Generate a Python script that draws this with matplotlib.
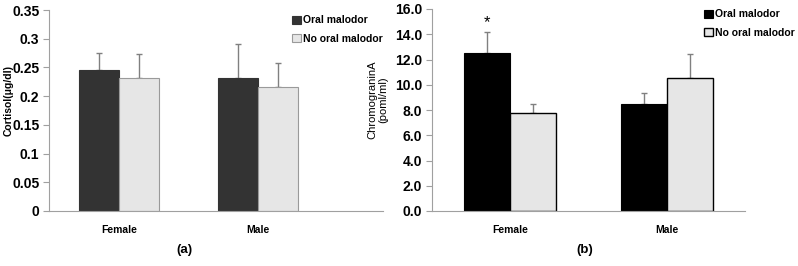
import matplotlib
matplotlib.use("Agg")
import matplotlib.pyplot as plt
import numpy as np

plt.rcParams['font.family'] = ['Liberation Sans', 'DejaVu Sans']

categories = ["Female", "Male"]
series = ["Oral malodor", "No oral malodor"]

cortisol_oral = [0.245, 0.231]
cortisol_oral_err = [0.030, 0.060]
cortisol_no = [0.232, 0.216]
cortisol_no_err = [0.041, 0.041]

cga_oral = [12.5, 8.45]
cga_oral_err = [1.7, 0.9]
cga_no = [7.75, 10.55]
cga_no_err = [0.75, 1.85]

left_ticks = [0, 0.05, 0.1, 0.15, 0.2, 0.25, 0.3, 0.35]
left_ticklabels = ["0", "0.05", "0.1", "0.15", "0.2", "0.25", "0.3", "0.35"]
right_ticks = [0, 2, 4, 6, 8, 10, 12, 14, 16]
right_ticklabels = ["0.0", "2.0", "4.0", "6.0", "8.0", "10.0", "12.0", "14.0", "16.0"]

fig = plt.figure(figsize=(7.98, 2.66), dpi=100)
axL = fig.add_axes([49/798, 1-211/266, (383-49)/798, (211-10)/266])
axR = fig.add_axes([432/798, 1-211/266, (745-432)/798, (211-9)/266])

x = np.arange(len(categories))
w = 0.29

def style(ax):
    for s in ["top", "right"]:
        ax.spines[s].set_visible(False)
    ax.spines["left"].set_color("#a0a0a0")
    ax.spines["bottom"].set_color("#a0a0a0")
    ax.tick_params(axis="y", length=4, color="#a0a0a0", labelsize=10, pad=3)
    ax.tick_params(axis="x", length=0, labelsize=7.5, pad=10)
    for t in ax.get_xticklabels() + ax.get_yticklabels():
        t.set_fontweight("bold")

# Left panel
axL.bar(x - w/2, cortisol_oral, w, color="#333333", edgecolor="#333333", linewidth=0.8,
        label=series[0], zorder=2)
axL.bar(x + w/2, cortisol_no, w, color="#e6e6e6", edgecolor="#9a9a9a", linewidth=0.8,
        label=series[1], zorder=2)
axL.errorbar(x - w/2, cortisol_oral, yerr=[np.zeros(2), cortisol_oral_err], fmt="none",
             ecolor="#808080", elinewidth=1, capsize=2, zorder=1)
axL.errorbar(x + w/2, cortisol_no, yerr=[np.zeros(2), cortisol_no_err], fmt="none",
             ecolor="#808080", elinewidth=1, capsize=2, zorder=1)
axL.set_ylim(0, 0.35)
axL.set_xlim(-0.504, 1.90)
axL.set_yticks(left_ticks)
axL.set_yticklabels(left_ticklabels)
axL.set_xticks(x)
axL.set_xticklabels(categories)
style(axL)
fig.text(9/798, 1-100/266, "Cortisol(μg/dl)", rotation=90, ha="center", va="center",
         fontsize=7.5, fontweight="bold")
axL.legend(loc="upper left", bbox_to_anchor=(0.70, 1.02), frameon=False,
           handlelength=0.8, handleheight=0.8, handletextpad=0.2, labelspacing=0.8,
           prop={"weight": "bold", "size": 7.5})
fig.text(184/798, 1-250/266, "(a)", ha="center", va="center", fontsize=9.5, fontweight="bold")

# Right panel
axR.bar(x - w/2, cga_oral, w, color="black", edgecolor="black", linewidth=0.8,
        label=series[0], zorder=2)
axR.bar(x + w/2, cga_no, w, color="#e6e6e6", edgecolor="black", linewidth=1.0,
        label=series[1], zorder=2)
axR.errorbar(x - w/2, cga_oral, yerr=[np.zeros(2), cga_oral_err], fmt="none",
             ecolor="#808080", elinewidth=1, capsize=2, zorder=1)
axR.errorbar(x + w/2, cga_no, yerr=[np.zeros(2), cga_no_err], fmt="none",
             ecolor="#808080", elinewidth=1, capsize=2, zorder=1)
axR.text(x[0] - w/2, cga_oral[0] + cga_oral_err[0] + 0.1, "*", ha="center", va="bottom",
         fontsize=12, fontweight="normal")
axR.set_ylim(0, 16)
axR.set_xlim(-0.497, 1.497)
axR.set_yticks(right_ticks)
axR.set_yticklabels(right_ticklabels)
axR.set_xticks(x)
axR.set_xticklabels(categories)
style(axR)
fig.text(378/798, 1-100/266, "ChromograninA\n(poml/ml)", rotation=90, ha="center", va="center",
         fontsize=8, linespacing=1.1, multialignment="center")
axR.legend(loc="upper left", bbox_to_anchor=(0.84, 1.045), frameon=False,
           handlelength=0.8, handleheight=0.8, handletextpad=0.2, labelspacing=0.8,
           prop={"weight": "bold", "size": 7.5})
fig.text(585/798, 1-250/266, "(b)", ha="center", va="center", fontsize=9.5, fontweight="bold")

fig.savefig("out.png", dpi=100)
